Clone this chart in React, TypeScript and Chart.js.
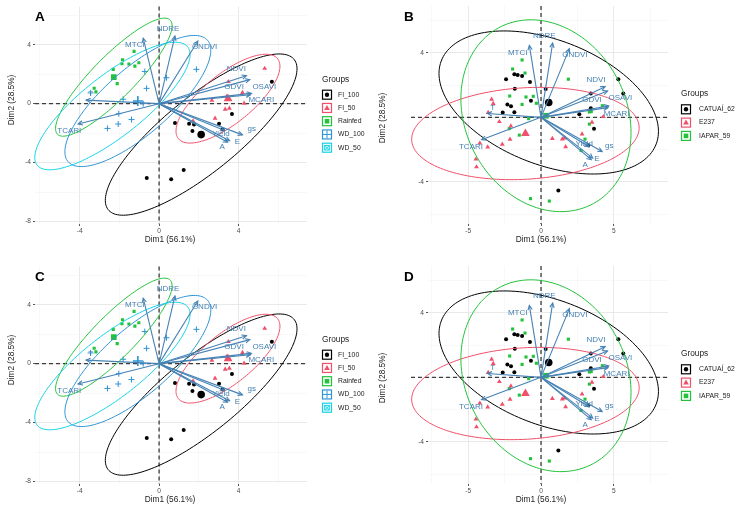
import React, { useEffect, useRef } from "react";
import { Chart, registerables } from "chart.js";
Chart.register(...registerables);

const FONT = "'Liberation Sans', Arial, Helvetica, sans-serif";

// ---------- variable loadings (arrows) ----------
const VARS = ["MTCI", "NDRE", "GNDVI", "NDVI", "GDVI", "OSAVI", "MCARI", "T", "TCARI", "Yield", "gs", "E", "A"];
const LOAD_X = [-0.8, 0.8, 1.95, 4.4, 4.57, 4.65, 4.6, -3.68, -4.08, 3.3, 4.2, 3.55, 3.45];
const LOAD_Y = [4.45, 4.6, 4.25, 1.9, 1.63, 0.7, 0.6, 0.24, -1.38, -1.82, -2.12, -2.52, -2.62];

// label positions (ggrepel) for panels A/C and B/D
const LABEL_AC_X = [-1.22, 0.45, 2.29, 3.89, 3.78, 5.3, 5.15, -3.45, -4.52, 3.12, 4.67, 3.94, 3.18];
const LABEL_AC_Y = [4.0, 5.06, 3.84, 2.4, 1.15, 1.17, 0.25, 0.68, -1.85, -2.03, -1.72, -2.58, -2.96];
const LABEL_BD_X = [-1.6, 0.23, 2.33, 3.78, 3.5, 5.45, 5.19, -3.32, -4.81, 2.97, 4.69, 3.84, 3.04];
const LABEL_BD_Y = [4.02, 5.03, 3.86, 2.35, 1.11, 1.24, 0.21, 0.56, -1.81, -1.61, -1.75, -2.54, -2.95];

// ---------- Panels A / C : treatments ----------
const GROUPS_AC = ["FI_100", "FI_50", "Rainfed", "WD_100", "WD_50"];
const FI100_PTS = [[0.8, -1.31], [1.51, -1.36], [1.76, -1.41], [1.68, -1.85], [3.02, -1.36], [3.2, -1.76], [3.67, -0.71], [5.68, 1.49], [-0.62, -5.05], [0.61, -5.14], [1.24, -4.5]];
const FI50_PTS = [[5.32, 2.39], [3.49, 1.49], [4.2, 0.75], [2.66, 0.23], [4.28, 0.02], [3.33, -0.38], [3.54, -0.31], [2.82, -1.0], [1.71, -1.18], [3.42, 0.5], [3.56, 0.28]];
const RAINFED_PTS = [[-1.26, 3.55], [-1.84, 2.98], [-1.87, 2.71], [-1.52, 2.69], [-1.02, 2.78], [-1.22, 2.55], [-2.31, 2.33], [-2.11, 1.36], [-3.27, 1.05], [-3.18, 0.8]];
const WD100_PTS = [[-0.72, 2.18], [0.37, 1.76], [1.88, 2.33], [-0.63, 1.04], [-1.81, 0.3], [-0.8, 0.0], [-2.03, -0.68], [-1.39, -1.08], [-2.06, -1.38], [-2.6, -1.68], [-3.45, 0.73]];
const WD50_PTS = [[-1.76, 1.76], [-0.94, 1.27], [-0.5, 1.31], [-2.26, 0.79], [-1.31, 0.75], [-2.01, 0.68], [-2.56, 0.29], [-2.78, -0.27], [-2.11, -0.68], [-3.58, -1.85], [-4.36, -2.55], [-4.36, -3.1]];
const CENTROIDS_AC = [[2.12, -2.1], [3.47, 0.34], [-2.28, 1.8], [-1.07, 0.18], [-2.35, -0.16]];
const ELL_AC_MAJOR = [6.96, 3.72, 4.82, 5.45, 5.55];
const ELL_AC_MINOR = [2.2, 1.45, 1.2, 1.9, 1.8];
const ELL_AC_ANGLE = [49.4, 50.5, 55, 52, 48.6];

// ---------- Panels B / D : genotypes ----------
const GROUPS_BD = ["CATUAÍ_62", "E237", "IAPAR_59"];
const CATUAI_PTS = [[-2.4, 2.36], [-1.83, 2.66], [-1.6, 2.62], [-1.3, 2.56], [-0.76, 2.19], [-1.8, 1.77], [-2.31, 0.8], [-2.06, 0.68], [-1.83, 0.31], [-2.63, 0.3], [-0.69, 1.03], [0.32, 1.75], [3.42, 1.48], [5.31, 2.36], [5.65, 1.47], [3.42, 0.56], [2.63, 0.19], [3.64, -0.7], [3.25, -1.73], [1.19, -4.52]];
const E237_PTS = [[-3.39, 1.12], [-3.28, 0.85], [-3.63, 0.3], [-2.86, -0.27], [-2.07, -0.54], [-2.13, -1.36], [-2.66, -1.67], [-3.66, -1.84], [-4.2, -1.6], [-4.47, -2.59], [-4.43, -3.07], [0.78, -1.31], [1.46, -1.34], [1.69, -1.82], [1.62, -1.28], [2.82, -1.03], [3.5, -0.31], [4.28, 0.04]];
const IAPAR_PTS = [[-1.3, 3.55], [-1.95, 2.99], [-1.1, 2.74], [1.88, 2.36], [-2.15, 1.32], [-1.03, 1.26], [-0.53, 1.3], [-1.3, 0.8], [-0.32, 0.87], [-0.85, -0.08], [-2.18, -0.7], [-1.49, -1.1], [4.21, 0.72], [3.32, 0.33], [3.45, 0.36], [3.32, -0.42], [3.02, -1.35], [2.75, -2.05], [-0.72, -5.03], [0.57, -5.18]];
const CENTROIDS_BD = [[0.53, 0.92], [-1.07, -1.0], [0.34, 0.1]];
const ELL_BD_MAJOR = [7.82, 7.82, 6.39];
const ELL_BD_MINOR = [3.9, 2.83, 5.34];
const ELL_BD_ANGLE = [-18, 3, -47.6];

// tick values
const X_TICKS_AC = [-6, -4, -2, 0, 2, 4, 6];
const X_MAJOR_AC = [-4, 0, 4];
const Y_TICKS_AC = [-8, -6, -4, -2, 0, 2, 4, 6];
const Y_MAJOR_AC = [-8, -4, 0, 4];
const X_TICKS_BD = [-7.5, -5, -2.5, 0, 2.5, 5, 7.5];
const X_MAJOR_BD = [-5, 0, 5];
const Y_TICKS_BD = [-6, -4, -2, 0, 2, 4, 6];
const Y_MAJOR_BD = [-4, 4];

const COLORS_AC = ["#000000", "#F0506A", "#22C33A", "#2E94D6", "#14D3E6"];
const SHAPES_AC = ["circle", "triangle", "rect", "cross", "boxX"];
const COLORS_BD = ["#000000", "#F0506A", "#22C33A"];
const SHAPES_BD = ["circle", "triangle", "rect"];
const ARROW_COLOR = "#4682B4";

function boxXCanvas(size: number, color: string, filled: boolean) {
  const c = document.createElement("canvas");
  c.width = size;
  c.height = size;
  const g = c.getContext("2d")!;
  g.strokeStyle = color;
  g.lineWidth = 1;
  if (filled) {
    g.fillStyle = color;
    g.fillRect(0, 0, size, size);
    g.strokeStyle = "rgba(255,255,255,0.45)";
  } else {
    g.strokeRect(0.5, 0.5, size - 1, size - 1);
  }
  g.beginPath();
  g.moveTo(0.5, 0.5);
  g.lineTo(size - 0.5, size - 0.5);
  g.moveTo(size - 0.5, 0.5);
  g.lineTo(0.5, size - 0.5);
  g.stroke();
  return c;
}

function drawMarker(ctx: CanvasRenderingContext2D, shape: string, x: number, y: number, r: number, color: string) {
  ctx.save();
  ctx.fillStyle = color;
  ctx.strokeStyle = color;
  ctx.lineWidth = 1;
  ctx.beginPath();
  if (shape === "circle") {
    ctx.arc(x, y, r, 0, Math.PI * 2);
    ctx.fill();
  } else if (shape === "triangle") {
    const h = r * 1.25;
    ctx.moveTo(x, y - h);
    ctx.lineTo(x + h * 0.95, y + h * 0.65);
    ctx.lineTo(x - h * 0.95, y + h * 0.65);
    ctx.closePath();
    ctx.fill();
  } else if (shape === "rect") {
    ctx.fillRect(x - r, y - r, 2 * r, 2 * r);
  } else if (shape === "cross") {
    ctx.moveTo(x - r - 1, y);
    ctx.lineTo(x + r + 1, y);
    ctx.moveTo(x, y - r - 1);
    ctx.lineTo(x, y + r + 1);
    ctx.stroke();
  } else {
    ctx.strokeRect(x - r, y - r, 2 * r, 2 * r);
    ctx.moveTo(x - r, y - r);
    ctx.lineTo(x + r, y + r);
    ctx.moveTo(x + r, y - r);
    ctx.lineTo(x - r, y + r);
    ctx.stroke();
  }
  ctx.restore();
}

type PanelCfg = {
  letter: string;
  groups: string[];
  colors: string[];
  shapes: string[];
  pts: number[][][];
  centroids: number[][];
  ellA: number[];
  ellB: number[];
  ellAng: number[];
  labX: number[];
  labY: number[];
  xMin: number; xMax: number; yMin: number; yMax: number;
  xTicks: number[]; xMajor: number[]; yTicks: number[]; yMajor: number[];
  yAxisW: number; padRight: number;
  hLineLeft: number | null;
  legX: number; legTitleY: number; legRowY: number; legStep: number; legTextX: number;
  letterX: number;
  xTitleX: number; yTitleY: number;
};

function Panel({ cfg }: { cfg: PanelCfg }) {
  const ref = useRef<HTMLCanvasElement>(null);
  useEffect(() => {
    const datasets: any[] = [];
    cfg.groups.forEach((g, i) => {
      const color = cfg.colors[i];
      const shape = cfg.shapes[i];
      const small: any = { circle: 2, triangle: 2.8, rect: 2.2, cross: 3, boxX: 0 }[shape];
      const big: any = { circle: 3.8, triangle: 5, rect: 4, cross: 5, boxX: 0 }[shape];
      const style = shape === "boxX" ? boxXCanvas(5, color, true) : shape;
      const bigStyle = shape === "boxX" ? boxXCanvas(8, color, true) : shape;
      datasets.push({
        type: "scatter",
        label: g,
        data: cfg.pts[i].map(([x, y]) => ({ x, y })),
        pointStyle: style,
        pointRadius: small,
        backgroundColor: color,
        borderColor: color,
        borderWidth: shape === "cross" ? 1 : 0,
      });
      datasets.push({
        type: "scatter",
        label: g + " mean",
        data: [{ x: cfg.centroids[i][0], y: cfg.centroids[i][1] }],
        pointStyle: bigStyle,
        pointRadius: big,
        backgroundColor: color,
        borderColor: color,
        borderWidth: shape === "cross" ? 1.6 : 0,
      });
    });

    const plugin = {
      id: "pcaPanel",
      beforeDatasetsDraw(chart: any) {
        const { ctx, chartArea: ca, scales } = chart;
        const ox = scales.x.getPixelForValue(0);
        const oy = scales.y.getPixelForValue(0);
        ctx.save();
        ctx.strokeStyle = "#3c3c3c";
        ctx.lineWidth = 1.3;
        ctx.setLineDash([4, 3]);
        ctx.beginPath();
        ctx.moveTo(cfg.hLineLeft ?? ca.left, oy);
        ctx.lineTo(ca.right, oy);
        ctx.moveTo(ox, ca.top);
        ctx.lineTo(ox, ca.bottom);
        ctx.stroke();
        ctx.restore();
      },
      afterDatasetsDraw(chart: any) {
        const { ctx, scales } = chart;
        const sx = scales.x, sy = scales.y;
        // ellipses
        ctx.save();
        ctx.lineWidth = 1;
        cfg.groups.forEach((_, i) => {
          const [cx, cy] = cfg.centroids[i];
          const a = cfg.ellA[i], b = cfg.ellB[i];
          const th = (cfg.ellAng[i] * Math.PI) / 180;
          ctx.strokeStyle = cfg.colors[i];
          ctx.beginPath();
          for (let k = 0; k <= 160; k++) {
            const t = (k / 160) * Math.PI * 2;
            const dx = a * Math.cos(t), dy = b * Math.sin(t);
            const X = cx + dx * Math.cos(th) - dy * Math.sin(th);
            const Y = cy + dx * Math.sin(th) + dy * Math.cos(th);
            const px = sx.getPixelForValue(X), py = sy.getPixelForValue(Y);
            if (k === 0) ctx.moveTo(px, py);
            else ctx.lineTo(px, py);
          }
          ctx.closePath();
          ctx.stroke();
        });
        ctx.restore();
        // arrows
        const ox = sx.getPixelForValue(0), oy = sy.getPixelForValue(0);
        ctx.save();
        ctx.strokeStyle = ARROW_COLOR;
        ctx.lineWidth = 1.1;
        VARS.forEach((_, i) => {
          const tx = sx.getPixelForValue(LOAD_X[i]);
          const ty = sy.getPixelForValue(LOAD_Y[i]);
          ctx.beginPath();
          ctx.moveTo(ox, oy);
          ctx.lineTo(tx, ty);
          ctx.stroke();
          const ang = Math.atan2(ty - oy, tx - ox);
          const L = 5, w = 0.45;
          ctx.beginPath();
          ctx.moveTo(tx - L * Math.cos(ang - w), ty - L * Math.sin(ang - w));
          ctx.lineTo(tx, ty);
          ctx.lineTo(tx - L * Math.cos(ang + w), ty - L * Math.sin(ang + w));
          ctx.stroke();
        });
        ctx.fillStyle = ARROW_COLOR;
        ctx.font = `8px ${FONT}`;
        ctx.textAlign = "center";
        ctx.textBaseline = "middle";
        VARS.forEach((v, i) => {
          ctx.fillText(v, sx.getPixelForValue(cfg.labX[i]), sy.getPixelForValue(cfg.labY[i]));
        });
        ctx.restore();
      },
      afterDraw(chart: any) {
        const { ctx } = chart;
        ctx.save();
        // letter
        ctx.fillStyle = "#000";
        ctx.font = `bold 13.5px ${FONT}`;
        ctx.textAlign = "left";
        ctx.textBaseline = "middle";
        ctx.fillText(cfg.letter, cfg.letterX, 17);
        // axis titles
        ctx.fillStyle = "#222";
        ctx.font = `8.3px ${FONT}`;
        ctx.textAlign = "center";
        ctx.fillText("Dim1 (56.1%)", cfg.xTitleX, 240);
        ctx.save();
        ctx.translate(12, cfg.yTitleY);
        ctx.rotate(-Math.PI / 2);
        ctx.fillText("Dim2 (28.5%)", 0, 0);
        ctx.restore();
        // legend
        ctx.textAlign = "left";
        ctx.font = `8.3px ${FONT}`;
        ctx.fillStyle = "#222";
        ctx.fillText("Groups", cfg.legX, cfg.legTitleY);
        ctx.font = `6.8px ${FONT}`;
        cfg.groups.forEach((g, i) => {
          const cy = cfg.legRowY + i * cfg.legStep;
          const bx = cfg.legX + 0.5;
          ctx.fillStyle = "#fff";
          ctx.fillRect(bx, cy - 4.5, 9, 9);
          ctx.strokeStyle = cfg.colors[i];
          ctx.lineWidth = 1.2;
          ctx.strokeRect(bx, cy - 4.5, 9, 9);
          drawMarker(ctx, cfg.shapes[i], bx + 4.5, cy, cfg.shapes[i] === "circle" ? 2.2 : cfg.shapes[i] === "triangle" ? 2.4 : cfg.shapes[i] === "cross" ? 3 : 2.3, cfg.colors[i]);
          ctx.fillStyle = "#222";
          ctx.fillText(g, cfg.legTextX, cy);
        });
        ctx.restore();
      },
    };

    const gridOpts = (major: number[]) => ({
      color: (c: any) => (major.includes(c.tick?.value) ? "#E6E6E6" : "#F3F3F3"),
      lineWidth: (c: any) => (major.includes(c.tick?.value) ? 0.9 : 0.6),
      tickColor: (c: any) => (major.includes(c.tick?.value) ? "#444" : "rgba(0,0,0,0)"),
      tickLength: 2,
      drawTicks: true,
    });
    const yLabelMajor = cfg.yMajor;

    const chart = new Chart(ref.current!, {
      type: "scatter",
      data: { datasets },
      options: {
        animation: false,
        responsive: false,
        devicePixelRatio: 1,
        layout: { padding: { left: 0, top: 6, right: cfg.padRight, bottom: 0 } },
        plugins: { legend: { display: false }, tooltip: { enabled: false } },
        scales: {
          x: {
            type: "linear",
            min: cfg.xMin,
            max: cfg.xMax,
            afterBuildTicks: (s: any) => {
              s.ticks = cfg.xTicks.map((v) => ({ value: v }));
            },
            afterFit: (s: any) => {
              s.height = 24;
            },
            ticks: {
              autoSkip: false,
              maxRotation: 0,
              padding: 1,
              color: "#4d4d4d",
              font: { size: 6.6, family: FONT },
              callback: (v: any) => (cfg.xMajor.includes(v) ? String(v) : ""),
            },
            grid: gridOpts(cfg.xMajor),
            border: { display: false },
          },
          y: {
            type: "linear",
            min: cfg.yMin,
            max: cfg.yMax,
            afterBuildTicks: (s: any) => {
              s.ticks = cfg.yTicks.map((v) => ({ value: v }));
            },
            afterFit: (s: any) => {
              s.width = cfg.yAxisW;
            },
            ticks: {
              autoSkip: false,
              padding: 2,
              color: "#4d4d4d",
              font: { size: 6.6, family: FONT },
              callback: (v: any) => (yLabelMajor.includes(v) ? String(v) : ""),
            },
            grid: {
              ...gridOpts(cfg.yMajor.concat(cfg.yMajor.includes(0) ? [] : [0])),
            },
            border: { display: false },
          },
        },
      } as any,
      plugins: [plugin],
    });
    return () => chart.destroy();
  }, [cfg]);
  return <canvas ref={ref} width={371} height={248} style={{ display: "block", width: 371, height: 248 }} />;
}

const CFG_AC = {
  groups: GROUPS_AC,
  colors: COLORS_AC,
  shapes: SHAPES_AC,
  pts: [FI100_PTS, FI50_PTS, RAINFED_PTS, WD100_PTS, WD50_PTS],
  centroids: CENTROIDS_AC,
  ellA: ELL_AC_MAJOR,
  ellB: ELL_AC_MINOR,
  ellAng: ELL_AC_ANGLE,
  labX: LABEL_AC_X,
  labY: LABEL_AC_Y,
  xMin: -6.25, xMax: 7.45, yMin: -8.17, yMax: 6.59,
  xTicks: X_TICKS_AC, xMajor: X_MAJOR_AC, yTicks: Y_TICKS_AC, yMajor: Y_MAJOR_AC,
  yAxisW: 35, padRight: 64,
  hLineLeft: null,
  legX: 322, legTitleY: 80, legRowY: 94.7, legStep: 13.25, legTextX: 338,
  letterX: 35,
  xTitleX: 170, yTitleY: 100,
};
const CFG_BD = {
  groups: GROUPS_BD,
  colors: COLORS_BD,
  shapes: SHAPES_BD,
  pts: [CATUAI_PTS, E237_PTS, IAPAR_PTS],
  centroids: CENTROIDS_BD,
  ellA: ELL_BD_MAJOR,
  ellB: ELL_BD_MINOR,
  ellAng: ELL_BD_ANGLE,
  labX: LABEL_BD_X,
  labY: LABEL_BD_Y,
  xMin: -7.76, xMax: 8.72, yMin: -6.6, yMax: 6.89,
  xTicks: X_TICKS_BD, xMajor: X_MAJOR_BD, yTicks: Y_TICKS_BD, yMajor: Y_MAJOR_BD,
  yAxisW: 57, padRight: 74,
  hLineLeft: 40,
  legX: 310, legTitleY: 93.3, legRowY: 109.3, legStep: 13.3, legTextX: 328,
  letterX: 33,
  xTitleX: 170, yTitleY: 118,
};
const CFG_A: PanelCfg = { ...CFG_AC, letter: "A" };
const CFG_C: PanelCfg = { ...CFG_AC, letter: "C" };
const CFG_B: PanelCfg = { ...CFG_BD, letter: "B" };
const CFG_D: PanelCfg = { ...CFG_BD, letter: "D" };

export default function App() {
  const pos = (l: number, t: number): React.CSSProperties => ({ position: "absolute", left: l, top: t, width: 371, height: 248 });
  return (
    <div style={{ position: "fixed", left: 0, top: 0, width: 742, height: 508, background: "#fff", overflow: "hidden" }}>
      <div style={pos(0, 0)}><Panel cfg={CFG_A} /></div>
      <div style={pos(371, 0)}><Panel cfg={CFG_B} /></div>
      <div style={pos(0, 260)}><Panel cfg={CFG_C} /></div>
      <div style={pos(371, 260)}><Panel cfg={CFG_D} /></div>
    </div>
  );
}
